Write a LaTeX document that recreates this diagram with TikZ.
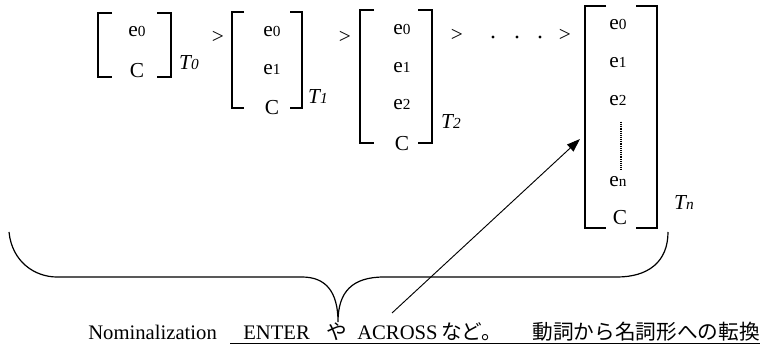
\documentclass[tikz,border=0pt]{standalone}
\usepackage{fontspec}
\setmainfont{Liberation Serif}
\newfontfamily\jpfont{Noto Sans CJK JP}
\usetikzlibrary{arrows.meta, positioning}

\newcommand{\ent}[2]{#1{\fontsize{11.5}{11.5}\selectfont #2}}
\newcommand{\tlab}[1]{\textit{T{\fontsize{11.5}{11.5}\selectfont #1}}}

\begin{document}
\begin{tikzpicture}[x=0.75pt, y=-0.75pt,
    entry/.style={font=\fontsize{16}{16}\selectfont, inner sep=0pt},
    tname/.style={font=\fontsize{16}{16}\selectfont, inner sep=0pt},
    brk/.style={line width=0.9pt},
    lab/.style={font=\fontsize{15.5}{15.5}\selectfont, inner sep=0pt, anchor=base west}]

    \useasboundingbox (0,0) rectangle (763,345);

    % Brackets of the tuples T0, T1, T2, Tn
    \foreach \l/\r/\t/\b/\s in {98/171/13/77/14, 232/302/12/108/12, 360/432/10/143/14, 585/657/6/228/21} {
        \draw[brk] ({\l+\s},\t) -| (\l,\b) -- ({\l+\s},\b);
        \draw[brk] ({\r-\s},\t) -| (\r,\b) -- ({\r-\s},\b);
    }

    % Entries
    \node[entry] (t0e0) at (137,32) {\ent{e}{0}};
    \node[entry] (t0c) at (137,71) {C};
    \node[entry] (t1e0) at (272,32) {\ent{e}{0}};
    \node[entry] (t1e1) at (272,70) {\ent{e}{1}};
    \node[entry] (t1c) at (272,108) {C};
    \node[entry] (t2e0) at (402,30) {\ent{e}{0}};
    \node[entry] (t2e1) at (402,68) {\ent{e}{1}};
    \node[entry] (t2e2) at (402,105) {\ent{e}{2}};
    \node[entry] (t2c) at (402,144) {C};
    \node[entry] (tne0) at (618,25) {\ent{e}{0}};
    \node[entry] (tne1) at (618,63) {\ent{e}{1}};
    \node[entry] (tne2) at (618,101) {\ent{e}{2}};
    \node[entry] (tnen) at (618,182) {\ent{e}{n}};
    \node[entry] (tnc) at (620,218) {C};

    % Dotted gap between e2 and en
    \coordinate (gaptop) at (621,122);
    \coordinate (gapbot) at (621,169);
    \draw[line width=1.3pt, dash pattern=on 0.7pt off 0.7pt] (gaptop) -- (gapbot);

    % Tuple names
    \node[tname] (t0) at (189,63) {\tlab{0}};
    \node[tname] (t1) at (318,97) {\tlab{1}};
    \node[tname] (t2) at (451,122) {\tlab{2}};
    \node[tname] (tn) at (684,203) {\tlab{n}};

    % Order signs
    \node[entry] (gt1) at (218,37) {>};
    \node[entry] (gt2) at (345,37) {>};
    \node[entry] (gt3) at (457,35) {>};
    \node[entry] (gt4) at (565,35) {>};
    \foreach \x in {493, 517, 540}
        \fill (\x,37) circle (1.6);

    % Brace
    \draw[brk] (9,232) .. controls (12,262) and (35,277) .. (57,277) -- (302,277)
        .. controls (326,277) and (338,292) .. (338,322)
        .. controls (338,292) and (352,277) .. (384,277) -- (617,277)
        .. controls (648,277) and (668,262) .. (668,232);

    % Bottom line of text
    \node[lab] (nom) at (88,339) {Nominalization};
    \node[lab] (enter) at (243,339) {ENTER};
    \node[lab] (ya) at (326,339) {\jpfont や};
    \node[lab] (across) at (357,339) {ACROSS\,{\jpfont など。}};
    \node[lab, anchor=base east] (conv) at (760,339) {\jpfont 動詞から名詞形への転換};
    \draw[line width=0.6pt] (230,343) -- (760,343);

    % Arrow
    \coordinate (tail) at (392,313);
    \coordinate (head) at (580,139);
    \draw[line width=0.7pt, -{Triangle[length=10pt, width=7pt]}] (tail) -- (head);
\end{tikzpicture}
\end{document}
